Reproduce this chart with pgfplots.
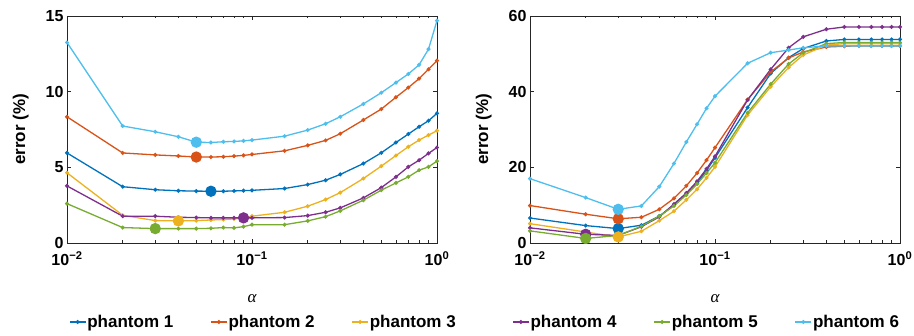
\documentclass[border=0pt]{standalone}
\usepackage{pgfplots}
\pgfplotsset{compat=1.18}
\usepackage{pgfplotstable}
\usepackage{fontspec}
\setmainfont{Liberation Sans}
\newfontfamily\serifit{Liberation Serif}

\definecolor{c1}{rgb}{0,0.447,0.741}
\definecolor{c2}{rgb}{0.85,0.325,0.098}
\definecolor{c3}{rgb}{0.929,0.694,0.125}
\definecolor{c4}{rgb}{0.494,0.184,0.556}
\definecolor{c5}{rgb}{0.466,0.674,0.188}
\definecolor{c6}{rgb}{0.301,0.745,0.933}
\definecolor{axc}{rgb}{0.15,0.15,0.15}

\pgfplotstableread{
a     p1    p2    p3    p4    p5    p6
0.01  5.95  8.34  4.64  3.77  2.60  13.25
0.02  3.72  5.95  1.83  1.77  1.02  7.73
0.03  3.52  5.82  1.48  1.77  0.95  7.35
0.04  3.45  5.75  1.46  1.70  0.95  7.02
0.05  3.43  5.68  1.48  1.68  0.95  6.66
0.06  3.42  5.68  1.52  1.66  0.97  6.64
0.07  3.42  5.70  1.55  1.66  1.02  6.69
0.08  3.44  5.74  1.59  1.66  1.00  6.71
0.09  3.46  5.79  1.66  1.66  1.08  6.75
0.10  3.48  5.85  1.77  1.66  1.21  6.80
0.15  3.60  6.09  2.03  1.68  1.21  7.06
0.20  3.86  6.45  2.43  1.81  1.46  7.46
0.25  4.15  6.78  2.87  2.03  1.74  7.88
0.30  4.53  7.22  3.33  2.32  2.12  8.34
0.40  5.25  8.13  4.26  2.98  2.83  9.19
0.50  5.96  8.85  5.08  3.66  3.49  9.93
0.60  6.64  9.63  5.78  4.37  3.97  10.60
0.70  7.20  10.27 6.36  5.03  4.37  11.17
0.80  7.68  10.86 6.80  5.47  4.81  11.77
0.90  8.08  11.48 7.13  5.92  5.03  12.81
1.00  8.57  12.05 7.42  6.31  5.41  14.70
}\leftdata

\pgfplotstableread{
a     p1    p2    p3    p4    p5    p6
0.01  6.6   9.9   5.1   4.0   3.2   17.0
0.02  4.6   7.6   2.9   2.3   1.2   12.0
0.03  3.8   6.4   1.6   2.0   2.0   8.9
0.04  4.7   6.8   3.1   4.3   4.4   9.8
0.05  7.1   8.9   5.9   6.9   7.1   14.9
0.06  10.0  11.8  8.4   10.3  9.8   21.0
0.07  13.0  15.1  11.4  13.2  12.7  26.7
0.08  15.8  18.5  14.2  16.3  15.6  31.4
0.09  19.2  21.9  17.2  19.6  18.5  35.6
0.10  22.5  25.2  20.1  22.9  21.2  38.8
0.15  35.8  37.9  33.8  37.8  34.4  47.5
0.20  44.8  45.2  41.3  45.9  42.0  50.3
0.25  49.0  48.9  46.4  51.6  47.3  51.0
0.30  51.4  50.5  49.7  54.5  50.3  51.6
0.40  53.4  51.8  52.3  56.5  52.7  52.1
0.50  53.8  52.0  52.7  57.1  53.0  52.1
0.60  53.8  52.1  52.7  57.1  53.0  52.1
0.70  53.8  52.1  52.7  57.1  53.0  52.1
0.80  53.8  52.1  52.7  57.1  53.0  52.1
0.90  53.8  52.1  52.7  57.1  53.0  52.1
1.00  53.8  52.1  52.7  57.1  53.0  52.1
}\rightdata

\pgfplotsset{
  every axis/.append style={
    scale only axis, width=370pt, height=227pt,
    xmin=0.01, xmax=1, ymin=0,
    axis line style={axc, line width=0.8pt},
    tick style={axc, line width=0.6pt},
    major tick length=4pt, minor tick length=2.5pt,
    tick align=inside, xtick pos=both, ytick pos=both,
    xtick={0.01,0.1,1},
    xticklabels={10\textsuperscript{−2},10\textsuperscript{−1},10\textsuperscript{0}},
    ticklabel style={font=\bfseries\fontsize{16}{16}\selectfont},
    /pgf/number format/assume math mode=true,
    xticklabel style={yshift=-5pt},
    ylabel={error (\%)},
    ylabel style={font=\bfseries\fontsize{17}{17}\selectfont, at={(axis description cs:-0.125,0.5)}, anchor=center},
    xlabel={\serifit\itshape α},
    xlabel style={font=\fontsize{17}{17}\selectfont, at={(axis description cs:0.5,-0.245)}, anchor=center},
    legend columns=3,
    legend style={draw=none, fill=none, inner sep=0pt, anchor=west,
      font=\bfseries\fontsize{17}{17}\selectfont,
      nodes={inner sep=1pt},
      /tikz/every even column/.append style={column sep=36pt}},
  },
  every axis plot/.append style={line width=1.3pt, mark=*, mark size=1.3pt},
  legend image code/.code={\draw[#1,mark repeat=2,mark phase=2] plot coordinates {(0pt,0pt) (8pt,0pt) (16pt,0pt)};},
  big/.style={only marks, mark=*, mark size=5pt, forget plot},
}

\begin{document}
\begin{tikzpicture}
\useasboundingbox (0,0) rectangle (914pt,336pt);
\begin{semilogxaxis}[at={(67pt,93pt)}, anchor=south west,
  ymax=15, ytick={0,5,10,15},
  legend style={at={(axis description cs:0.005,-0.348)}}]
\addplot[c1] table[x=a,y=p1] {\leftdata};
\addplot[c2] table[x=a,y=p2] {\leftdata};
\addplot[c3] table[x=a,y=p3] {\leftdata};
\addplot[c4, forget plot] table[x=a,y=p4] {\leftdata};
\addplot[c5, forget plot] table[x=a,y=p5] {\leftdata};
\addplot[c6, forget plot] table[x=a,y=p6] {\leftdata};
\addplot[c1, big] coordinates {(0.06,3.42)};
\addplot[c2, big] coordinates {(0.05,5.68)};
\addplot[c3, big] coordinates {(0.04,1.46)};
\addplot[c4, big] coordinates {(0.09,1.66)};
\addplot[c5, big] coordinates {(0.03,0.95)};
\addplot[c6, big] coordinates {(0.05,6.66)};
\legend{phantom 1,phantom 2,phantom 3}
\end{semilogxaxis}
\begin{semilogxaxis}[at={(530pt,93pt)}, anchor=south west,
  ymax=60, ytick={0,20,40,60},
  legend style={at={(axis description cs:-0.0485,-0.348)}}]
\addplot[c1, forget plot] table[x=a,y=p1] {\rightdata};
\addplot[c2, forget plot] table[x=a,y=p2] {\rightdata};
\addplot[c3, forget plot] table[x=a,y=p3] {\rightdata};
\addplot[c4] table[x=a,y=p4] {\rightdata};
\addplot[c5] table[x=a,y=p5] {\rightdata};
\addplot[c6] table[x=a,y=p6] {\rightdata};
\addplot[c1, big] coordinates {(0.03,3.8)};
\addplot[c2, big] coordinates {(0.03,6.4)};
\addplot[c3, big] coordinates {(0.03,1.6)};
\addplot[c4, big] coordinates {(0.02,2.3)};
\addplot[c5, big] coordinates {(0.02,1.2)};
\addplot[c6, big] coordinates {(0.03,8.9)};
\legend{phantom 4,phantom 5,phantom 6}
\end{semilogxaxis}
\end{tikzpicture}
\end{document}
